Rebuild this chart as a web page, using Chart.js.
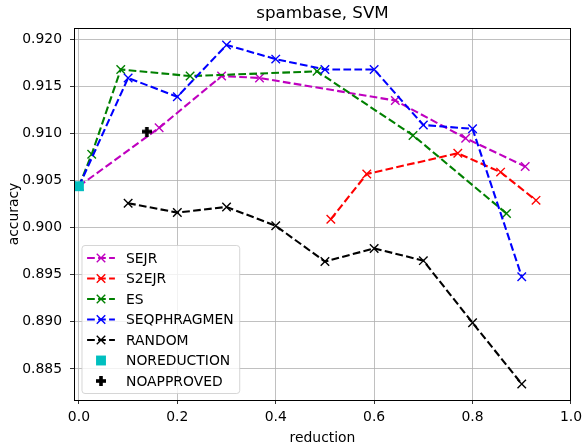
<!DOCTYPE html>
<html>
<head>
<meta charset="utf-8">
<script src="https://cdn.jsdelivr.net/npm/chart.js@4/dist/chart.umd.min.js"></script>
<style>
  html, body { margin: 0; padding: 0; background: #fff; }
  #chart { display: block; }
</style>
</head>
<body>
<canvas id="chart" width="587" height="448"></canvas>
<script>
// values
const xTicks = [0.0, 0.2, 0.4, 0.6, 0.8, 1.0];
const yTicks = [0.885, 0.890, 0.895, 0.900, 0.905, 0.910, 0.915, 0.920];

const sejrX = [0.0, 0.163, 0.290, 0.367, 0.643, 0.786, 0.907];
const sejrY = [0.9044, 0.9106, 0.9161, 0.9159, 0.9135, 0.9095, 0.9065];

const s2ejrX = [0.512, 0.585, 0.770, 0.857, 0.929];
const s2ejrY = [0.9009, 0.9057, 0.9079, 0.9059, 0.9029];

const esX = [0.0, 0.026, 0.085, 0.226, 0.484, 0.679, 0.869];
const esY = [0.9044, 0.9078, 0.9168, 0.9161, 0.9166, 0.9098, 0.9015];

const seqX = [0.0, 0.1, 0.2, 0.3, 0.4, 0.5, 0.6, 0.7, 0.8, 0.9];
const seqY = [0.9044, 0.9159, 0.9139, 0.9194, 0.9179, 0.9168, 0.9168, 0.9109, 0.9105, 0.8948];

const randomX = [0.1, 0.2, 0.3, 0.4, 0.5, 0.6, 0.7, 0.8, 0.9];
const randomY = [0.9026, 0.9016, 0.9022, 0.9002, 0.8964, 0.8978, 0.8965, 0.8899, 0.8834];

const noReductionX = [0.0];
const noReductionY = [0.9044];

const noApprovedX = [0.138];
const noApprovedY = [0.9102];

function pts(xs, ys) {
  return xs.map((x, i) => ({x: x, y: ys[i]}));
}

// filled plus marker (matplotlib "P")
const plus = document.createElement('canvas');
plus.width = 10;
plus.height = 10;
const pc = plus.getContext('2d');
pc.fillStyle = '#000';
pc.fillRect(0, 3.2, 10, 3.6);
pc.fillRect(3.2, 0, 3.6, 10);

const FONT = 'DejaVu Sans';
Chart.defaults.font.family = FONT;
Chart.defaults.font.size = 13.9;
Chart.defaults.color = '#000';

function lineSet(label, xs, ys, color) {
  return {
    label: label,
    data: pts(xs, ys),
    borderColor: color,
    backgroundColor: color,
    borderWidth: 2.1,
    borderDash: [7.7, 3.3],
    pointStyle: 'crossRot',
    pointRadius: 6,
    pointBorderWidth: 1.4,
    pointBorderColor: color,
    pointBackgroundColor: color,
    showLine: true,
    tension: 0
  };
}

const datasets = [
  lineSet('SEJR', sejrX, sejrY, '#bf00bf'),
  lineSet('S2EJR', s2ejrX, s2ejrY, '#ff0000'),
  lineSet('ES', esX, esY, '#008000'),
  lineSet('SEQPHRAGMEN', seqX, seqY, '#0000ff'),
  lineSet('RANDOM', randomX, randomY, '#000000'),
  {
    label: 'NOREDUCTION',
    data: pts(noReductionX, noReductionY),
    showLine: false,
    pointStyle: 'rect',
    pointRadius: 7,
    pointBorderWidth: 0,
    borderColor: '#00bfbf',
    backgroundColor: '#00bfbf',
    pointBackgroundColor: '#00bfbf'
  },
  {
    label: 'NOAPPROVED',
    data: pts(noApprovedX, noApprovedY),
    showLine: false,
    pointStyle: plus,
    pointRadius: 5,
    borderColor: '#000',
    backgroundColor: '#000'
  }
];
// later series on top, like matplotlib
datasets.forEach((d, i) => { d.order = datasets.length - i; });

// full black frame round the plot
const frame = {
  id: 'frame',
  afterDatasetsDraw(chart) {
    const a = chart.chartArea;
    const ctx = chart.ctx;
    ctx.save();
    ctx.strokeStyle = '#000';
    ctx.lineWidth = 1;
    ctx.setLineDash([]);
    ctx.strokeRect(Math.round(a.left) + 0.5, Math.round(a.top) + 0.5,
      Math.round(a.right - a.left) - 1, Math.round(a.bottom - a.top));
    ctx.restore();
  }
};

// legend inside the axes, lower left
const boxLegend = {
  id: 'boxLegend',
  afterDraw(chart) {
    const a = chart.chartArea;
    const ctx = chart.ctx;
    const sets = chart.data.datasets;
    ctx.save();
    ctx.font = '13.9px "' + FONT + '"';
    let maxW = 0;
    sets.forEach(d => { maxW = Math.max(maxW, ctx.measureText(d.label).width); });
    const left = a.left + 7.5;
    const bottom = a.bottom - 7;
    const rowH = 20.5;
    const h = 148;
    const top = bottom - h;
    const w = 5.6 + 27.8 + 11.1 + maxW + 5.6;

    ctx.beginPath();
    if (ctx.roundRect) ctx.roundRect(left + 0.5, top + 0.5, w, h, 3);
    else ctx.rect(left + 0.5, top + 0.5, w, h);
    ctx.fillStyle = 'rgba(255,255,255,0.8)';
    ctx.fill();
    ctx.strokeStyle = 'rgba(204,204,204,0.8)';
    ctx.lineWidth = 1;
    ctx.stroke();

    sets.forEach((d, i) => {
      const y = top + 13 + i * rowH;
      const x0 = left + 5.6;
      const x1 = x0 + 27.8;
      if (d.showLine) {
        ctx.beginPath();
        ctx.setLineDash(d.borderDash || []);
        ctx.strokeStyle = d.borderColor;
        ctx.lineWidth = d.borderWidth;
        ctx.moveTo(x0, y);
        ctx.lineTo(x1, y);
        ctx.stroke();
      }
      ctx.setLineDash([]);
      ctx.strokeStyle = d.borderColor;
      ctx.fillStyle = d.pointBackgroundColor || d.backgroundColor;
      ctx.lineWidth = d.pointBorderWidth || 1;
      Chart.helpers.drawPoint(ctx, {
        pointStyle: d.pointStyle,
        radius: d.pointRadius,
        rotation: 0,
        borderWidth: d.pointBorderWidth || 0
      }, (x0 + x1) / 2, y);
      ctx.fillStyle = '#000';
      ctx.textAlign = 'left';
      ctx.textBaseline = 'middle';
      ctx.fillText(d.label, x1 + 11.1, y + 1);
    });
    ctx.restore();
  }
};

new Chart(document.getElementById('chart'), {
  type: 'line',
  data: { datasets: datasets },
  plugins: [frame, boxLegend],
  options: {
    responsive: false,
    animation: false,
    devicePixelRatio: 1,
    events: [],
    layout: { padding: { left: 0, right: 12, top: 0, bottom: 0 } },
    plugins: {
      legend: { display: false },
      tooltip: { enabled: false },
      title: {
        display: true,
        text: 'spambase, SVM',
        fullSize: false,
        color: '#000',
        font: { family: FONT, size: 16.7, weight: 'normal' },
        padding: { top: 4, bottom: 4 }
      }
    },
    scales: {
      x: {
        type: 'linear',
        min: -0.01,
        max: 1.0,
        afterBuildTicks: s => { s.ticks = xTicks.map(v => ({value: v})); },
        afterFit: s => { s.height = 48; },
        ticks: {
          padding: 5,
          maxRotation: 0,
          font: { size: 13.9 },
          callback: v => Number(v).toFixed(1)
        },
        grid: { color: '#b0b0b0', lineWidth: 0.8, tickColor: '#000', tickLength: 4 },
        border: { display: true, color: '#000', width: 1 },
        title: { display: true, text: 'reduction', font: { size: 13.9 }, padding: { top: 0, bottom: 1 } }
      },
      y: {
        type: 'linear',
        min: 0.8817,
        max: 0.9212,
        afterBuildTicks: s => { s.ticks = yTicks.map(v => ({value: v})); },
        afterFit: s => { s.width = 74; },
        ticks: {
          padding: 8,
          font: { size: 13.9 },
          callback: v => Number(v).toFixed(3)
        },
        grid: { color: '#b0b0b0', lineWidth: 0.8, tickColor: '#000', tickLength: 4 },
        border: { display: true, color: '#000', width: 1 },
        title: { display: true, text: 'accuracy', font: { size: 13.9 }, padding: { top: 6, bottom: 0 } }
      }
    }
  }
});
</script>
</body>
</html>
